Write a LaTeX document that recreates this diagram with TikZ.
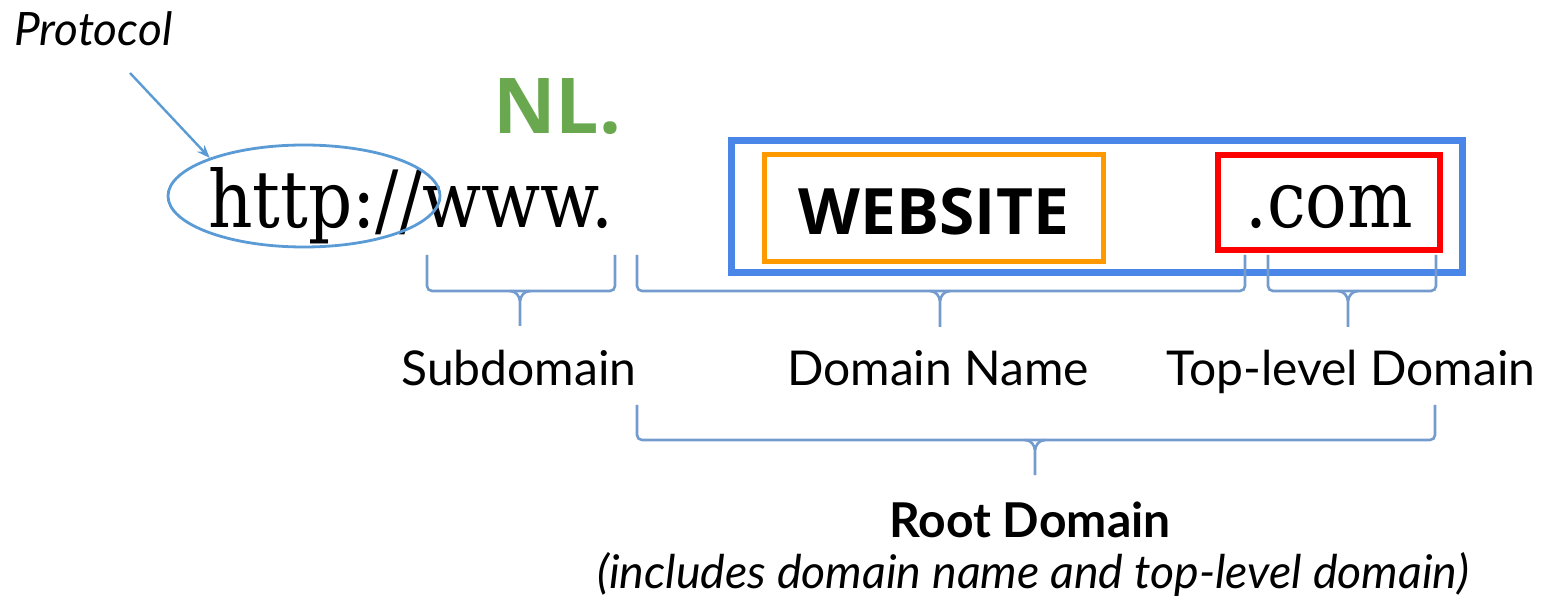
\documentclass[tikz,border=0pt]{standalone}
\usepackage{fontspec}
\setmainfont{Lato}
\newfontfamily\slabfont[FakeStretch=0.875]{DejaVu Serif}
\newfontfamily\heavyfont{Open Sans}
\usetikzlibrary{shapes.geometric, arrows.meta}
\definecolor{arrowblue}{RGB}{91,155,213}
\definecolor{braceblue}{RGB}{115,155,205}
\definecolor{rootblue}{RGB}{74,134,232}
\definecolor{namebrown}{RGB}{255,153,0}
\definecolor{nlgreen}{RGB}{106,168,79}
\begin{document}
\begin{tikzpicture}[x=1pt, y=-1pt,
    urltext/.style = {inner sep=0pt, font=\slabfont\fontsize{79}{79}\selectfont},
    label/.style = {inner sep=0pt, anchor=base, font=\fontsize{48}{48}\selectfont},
    bracket/.style = {draw=braceblue, line width=2.6pt, rounded corners=5pt},
    tip/.style = {draw=braceblue, line width=2.6pt}]
	\useasboundingbox (0,0) rectangle (1542,601);
	% the url itself
	\node[inner sep=0pt, anchor=base west, font=\itshape\fontsize{46}{46}\selectfont] (protocol) at (14,46) {Protocol};
	\node[urltext, anchor=base west] (http) at (208,228) {http://www.};
	\node[draw=arrowblue, line width=2.8pt, ellipse, minimum width=272pt, minimum height=102pt] (httpring) at (304,196) {};
	\coordinate (protail) at (130,73);
	\draw[-{Stealth[length=13pt, width=10pt]}, draw=arrowblue, line width=2.4pt] (protail) -- (httpring.158);
	\node[inner sep=0pt, anchor=base west, text=nlgreen, font=\heavyfont\bfseries\fontsize{77}{77}\selectfont] (nl) at (493,134) {NL.};
	\draw[draw=rootblue, line width=7pt] (731,141) rectangle (1462,273);
	\draw[draw=namebrown, line width=5pt] (764,155) rectangle (1103,262);
	\draw[draw=red, line width=6pt] (1218,155) rectangle (1440,250);
	\node[inner sep=0pt, anchor=base, font=\heavyfont\bfseries\fontsize{64}{64}\selectfont] (website) at (934,235) {WEBSITE};
	\node[urltext, anchor=base west] (com) at (1245,228) {.com};
	% braces
	\draw[bracket] (427,255) -- (427,291) -- (615,291) -- (615,255);
	\draw[tip] (510,291) to[out=0, in=90] (520,302) -- (520,326) (530,291) to[out=180, in=90] (520,302);
	\draw[bracket] (637,255) -- (637,291) -- (1245,291) -- (1245,255);
	\draw[tip] (930,291) to[out=0, in=90] (940,302) -- (940,327) (950,291) to[out=180, in=90] (940,302);
	\draw[bracket] (1268,255) -- (1268,291) -- (1436,291) -- (1436,255);
	\draw[tip] (1338,291) to[out=0, in=90] (1348,302) -- (1348,327) (1358,291) to[out=180, in=90] (1348,302);
	\draw[bracket] (637,405) -- (637,440) -- (1435,440) -- (1435,405);
	\draw[tip] (1025,440) to[out=0, in=90] (1035,451) -- (1035,475) (1045,440) to[out=180, in=90] (1035,451);
	% labels
	\node[label] (sub) at (519,385) {Subdomain};
	\node[label] (dname) at (938,385) {Domain Name};
	\node[label] (tld) at (1351,385) {Top-level Domain};
	\node[label, font=\bfseries\fontsize{48}{48}\selectfont] (root) at (1030,537) {Root Domain};
	\node[label, font=\itshape\fontsize{46.5}{46.5}\selectfont] (rootnote) at (1033,588) {(includes domain name and top-level domain)};
\end{tikzpicture}
\end{document}
